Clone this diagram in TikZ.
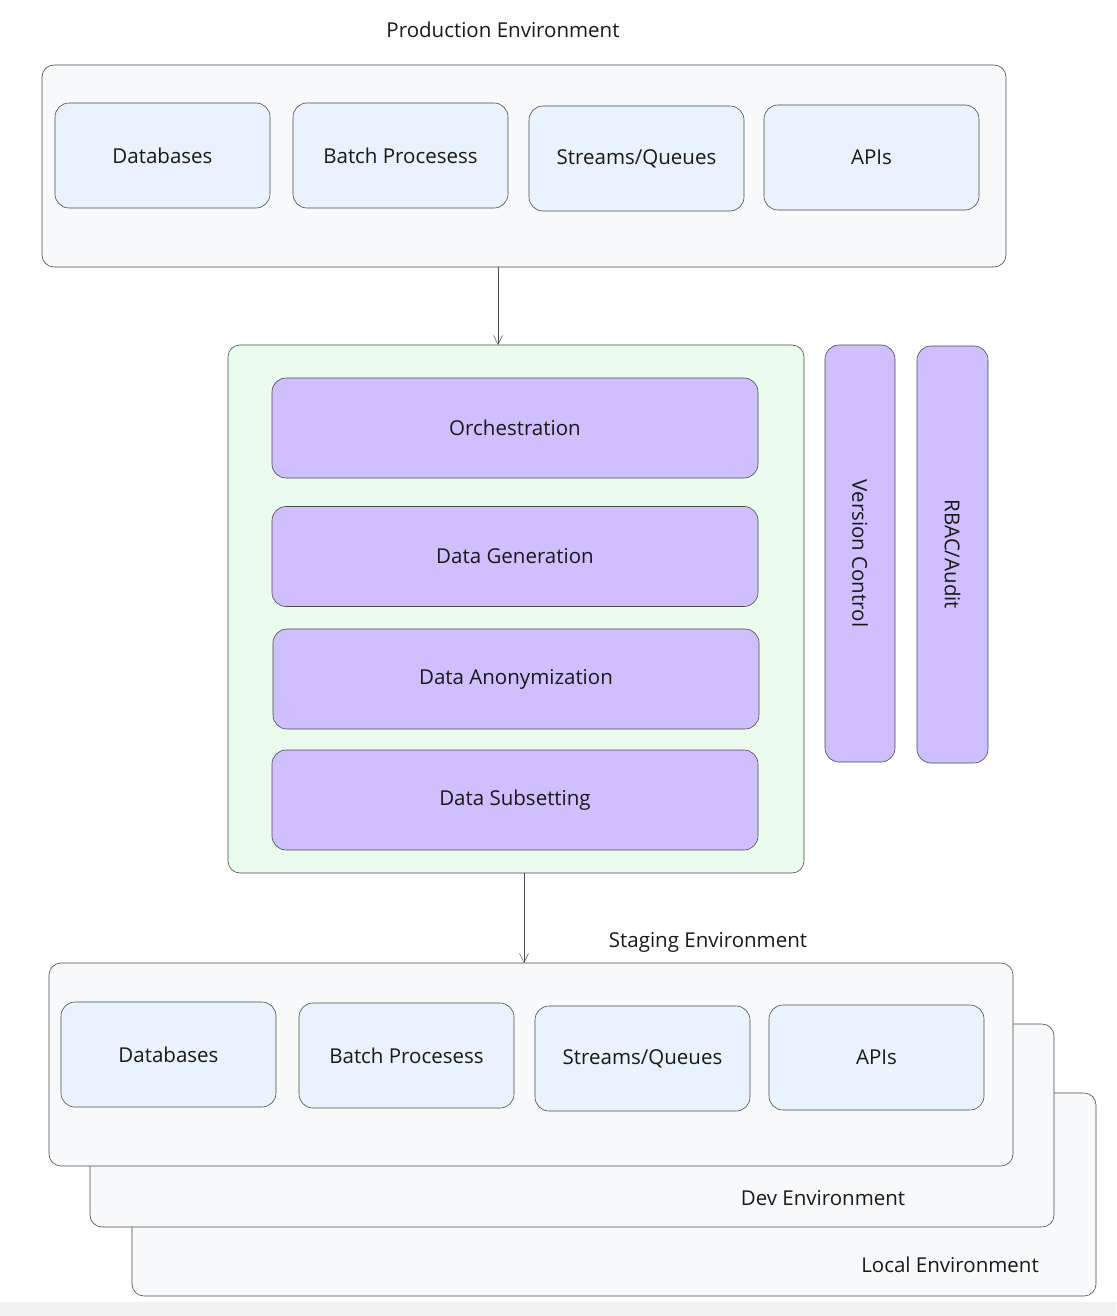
\documentclass[tikz,border=0pt]{standalone}
\usepackage{fontspec}
\setmainfont{Open Sans}
\usetikzlibrary{arrows.meta}
\definecolor{envfill}{HTML}{F8F9FA}
\definecolor{compfill}{HTML}{E8F3FD}
\definecolor{pipefill}{HTML}{EBFBEE}
\definecolor{stepfill}{HTML}{D0BFFF}
\definecolor{edge}{HTML}{4A4A4A}
\definecolor{strip}{HTML}{F2F2F2}
\begin{document}
\begin{tikzpicture}[x=1pt,y=-1pt,
  every node/.style = {shape=rectangle, inner sep=0pt, outer sep=0pt,
    font=\fontsize{20.5}{24}\selectfont, text=black!90},
  env/.style = {draw=edge, line width=0.6pt, fill=envfill, rounded corners=12pt,
    minimum width=964pt, minimum height=202pt},
  comp/.style = {draw=edge, line width=0.6pt, fill=compfill, rounded corners=14pt,
    minimum width=215pt, minimum height=105pt},
  stepbox/.style = {draw=edge, line width=0.6pt, fill=stepfill, rounded corners=14pt,
    minimum width=486pt, minimum height=100pt},
  side/.style = {draw=edge, line width=0.6pt, fill=stepfill, rounded corners=14pt,
    rotate=-90, minimum width=417pt, minimum height=70pt},
  flow/.style = {draw=edge, line width=0.5pt, -{Straight Barb[length=9pt,width=9pt]}}]
  \useasboundingbox (0,0) rectangle (1116,1316);
  \fill[strip] (0,1302) rectangle (1116,1316);

  % production
  \node (prodl) at (503,30) {Production Environment};
  \node[env] (prod) at (524,166) {};
  \node[comp] (pdb) at (162.5,155.5) {Databases};
  \node[comp] (pbatch) at (400.5,155.5) {Batch Procesess};
  \node[comp] (pstream) at (636.5,158.5) {Streams/Queues};
  \node[comp] (papi) at (871.5,157.5) {APIs};

  % pipeline
  \node[draw=edge, line width=0.6pt, fill=pipefill, rounded corners=12pt,
    minimum width=576pt, minimum height=528pt] (pipe) at (516,609) {};
  \node[stepbox] (orch) at (515,428) {Orchestration};
  \node[stepbox] (gen) at (515,556.5) {Data Generation};
  \node[stepbox] (anon) at (516,679) {Data Anonymization};
  \node[stepbox] (subset) at (515,800) {Data Subsetting};
  \node[side] (vc) at (860,553.5) {Version Control};
  \node[side, minimum height=71pt] (rbac) at (952.5,554.5) {RBAC/Audit};

  % lower environments
  \node[env, minimum height=203pt] (loc) at (614,1194.5) {};
  \node (locl) at (950,1265) {Local Environment};
  \node[env, minimum height=203pt] (dev) at (572,1125.5) {};
  \node (devl) at (823,1198) {Dev Environment};
  \node[env, minimum height=203pt] (stg) at (531,1064.5) {};
  \node (stgl) at (708,942) {Staging Environment};
  \node[comp] (sdb) at (168.5,1054.5) {Databases};
  \node[comp] (sbatch) at (406.5,1055.5) {Batch Procesess};
  \node[comp] (sstream) at (642.5,1058.5) {Streams/Queues};
  \node[comp] (sapi) at (876.5,1057.5) {APIs};

  \draw[flow] ([xshift=-26pt]prod.south) coordinate (a) -- (a |- pipe.north);
  \draw[flow] ([xshift=8pt]pipe.south) coordinate (b) -- (b |- stg.north);
\end{tikzpicture}
\end{document}
